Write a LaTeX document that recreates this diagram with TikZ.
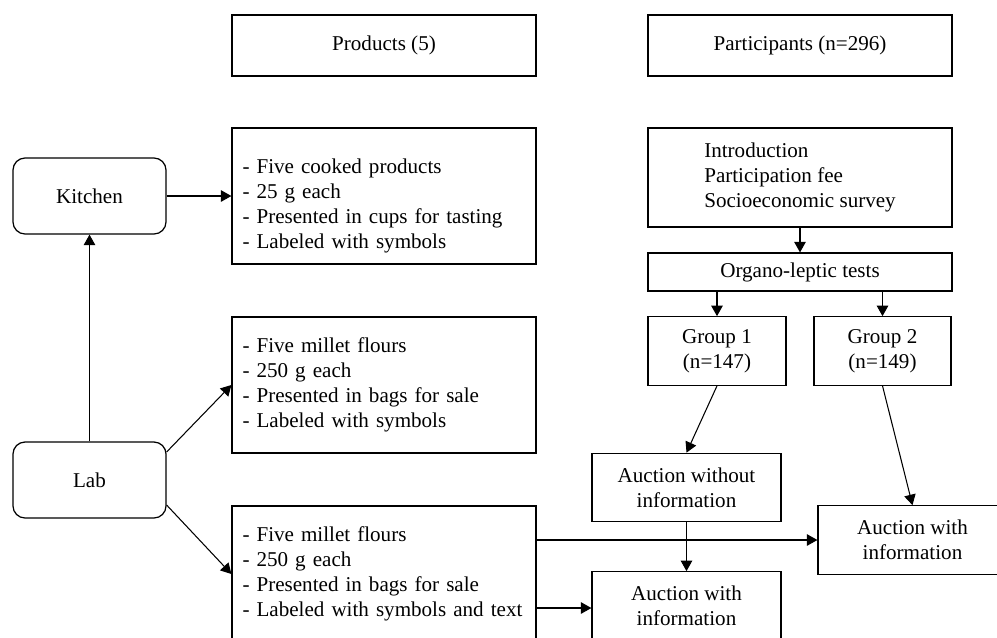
\documentclass[tikz,border=0pt]{standalone}
\usepackage{fontspec}
\setmainfont{Liberation Serif}
\usepackage{tikz}
\usetikzlibrary{arrows.meta, positioning, calc}
\tikzset{
    header/.style={rectangle, minimum width=6.08cm, minimum height=1.22cm, text centered, draw=black, line width=0.7pt},
    place/.style={rectangle, rounded corners=0.24cm, minimum width=3.06cm, minimum height=1.52cm, text centered, draw=black, line width=0.7pt},
    listbox/.style={rectangle, minimum width=6.08cm, minimum height=2.72cm, text width=5.66cm, inner xsep=0.21cm, align=left, draw=black, line width=0.7pt},
    stage/.style={rectangle, minimum height=1.37cm, align=center, draw=black, line width=0.7pt},
    arrow/.style={line width=0.6pt, -{Triangle[length=0.21cm, width=0.23cm]}}
}

\begin{document}
\begin{tikzpicture}[x=0.02cm, y=-0.02cm, font=\fontsize{12}{14.2}\selectfont]
\useasboundingbox (0,0) rectangle (997,637);

% Column headers
\node (products) [header] at (384,45.5) {Products (5)};
\node (participants) [header] at (800,45.5) {Participants (n=296)};

% Products side
\node (kitchen) [place] at (89.5,196) {Kitchen};
\node (lab) [place] at (89.5,480) {Lab};
\node (cooked) [listbox] at (384,196) {\rule{0pt}{19.5pt}- Five cooked products\\- 25 g each\\- Presented in cups for tasting\\- Labeled with symbols};
\node (flourSym) [listbox] at (384,385) {- Five millet flours\\- 250 g each\\- Presented in bags for sale\\- Labeled with symbols};
\node (flourText) [listbox] at (384,574) {- Five millet flours\\- 250 g each\\- Presented in bags for sale\\- Labeled with symbols and text};

% Participants side
\node (intro) [stage, minimum width=6.08cm, minimum height=1.98cm, align=left] at (800,177.5) {Introduction\\Participation fee\\Socioeconomic survey};
\node (organo) [stage, minimum width=6.08cm, minimum height=0.76cm] at (800,272) {Organo-leptic tests};
\node (group1) [stage, minimum width=2.76cm] at (717,351) {Group 1\\(n=147)};
\node (group2) [stage, minimum width=2.74cm] at (882.5,351) {Group 2\\(n=149)};
\node (noInfo) [stage, minimum width=3.78cm] at (686.5,487.5) {Auction without\\information};
\node (infoRight) [stage, minimum width=3.78cm] at (912.5,540) {Auction with\\information};
\node (infoLow) [stage, minimum width=3.78cm] at (686.5,606) {Auction with\\information};

% Arrows
\draw [arrow] (kitchen) -- (cooked);
\draw [arrow] (lab) -- (kitchen);
\draw [arrow] ($(lab.east)+(0,-28)$) -- (flourSym.west);
\draw [arrow] ($(lab.east)+(0,25)$) -- (flourText.west);
\draw [arrow] (intro) -- (organo);
\draw [arrow] (organo.south -| group1.north) -- (group1);
\draw [arrow] (organo.south -| group2.north) -- (group2);
\draw [arrow] (group1.south) -- (noInfo.north);
\draw [arrow] (group2.south) -- (infoRight.north);
\draw [arrow] (noInfo) -- (infoLow);
\draw [arrow] (flourText.east |- infoRight.west) -- (infoRight.west);
\draw [arrow] ($(flourText.east)+(0,34)$) -- (infoLow.west |- {$(flourText.east)+(0,34)$});

\end{tikzpicture}
\end{document}
